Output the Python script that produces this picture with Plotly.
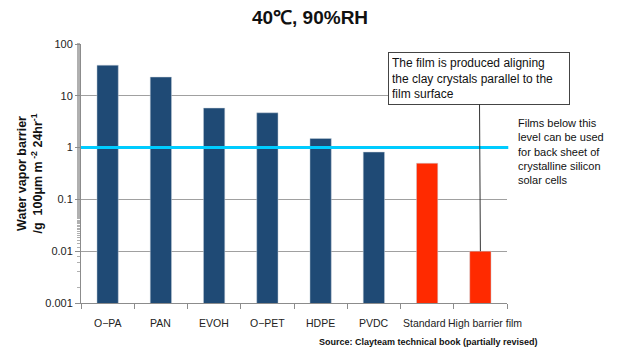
import math
import plotly.graph_objects as go

categories = ["O−PA", "PAN", "EVOH", "O−PET", "HDPE", "PVDC", "Standard", "High barrier film"]
values = [39, 23, 5.8, 4.7, 1.5, 0.82, 0.5, 0.01]
bar_colors = ["#1F4A75"] * 6 + ["#FF2A00"] * 2
label_shift = [0, 0, 0, 0, 0, 0, -3, 5]
y_tickvals = [0.001, 0.01, 0.1, 1, 10, 100]
y_ticktext = ["0.001", "0.01", "0.1", "1", "10", "100"]
threshold = 1

title_text = "40℃, 90%RH"
ytitle_text = "<b>Water vapor barrier<br>/g  100μm m<sup> -2</sup> 24hr<sup>-1</sup></b>"
box_text = "The film is produced aligning<br>the clay crystals parallel to the<br>film surface"
side_text = "Films below this<br>level can be used<br>for back sheet of<br>crystalline silicon<br>solar cells"
source_text = "Source: Clayteam technical book (partially revised)"

FONT = "Liberation Sans, Arial, sans-serif"
ymin, ymax = 0.001, 100
lmin, lmax = math.log10(ymin), math.log10(ymax)

fig = go.Figure()
fig.add_trace(go.Bar(
    x=categories, y=values, width=0.4,
    marker=dict(color=bar_colors, line=dict(color="rgba(200,210,220,0.8)", width=0.6)),
    showlegend=False, hoverinfo="x+y",
))

fig.update_layout(
    width=620, height=350,
    margin=dict(l=81, r=113, t=44, b=47, autoexpand=False),
    paper_bgcolor="white", plot_bgcolor="white",
    font=dict(family=FONT, size=11, color="#222"),
    title=dict(text="<b>" + title_text + "</b>", x=0.5, xanchor="center", y=0.95, yanchor="middle",
               font=dict(family=FONT, size=19, color="#111")),
    bargap=0.6,
)
fig.update_xaxes(
    showline=True, linecolor="#8c8c8c", linewidth=1,
    ticks="outside", tickson="boundaries", ticklen=5, tickcolor="#8c8c8c",
    showgrid=False, showticklabels=False, automargin=False,
    range=[-0.5, len(categories) - 0.5],
)
fig.update_yaxes(
    type="log", range=[lmin, lmax],
    tickvals=y_tickvals, ticktext=y_ticktext,
    showline=True, linecolor="#8c8c8c", linewidth=1,
    ticks="outside", ticklen=5, tickcolor="#8c8c8c",
    showgrid=True, gridcolor="#a0a0a0", gridwidth=1,
    minor=dict(ticks="outside", ticklen=3, tickcolor="#b0b0b0"),
    tickfont=dict(size=11, color="#222"), zeroline=False, automargin=False,
)

# category labels
for cat, sh in zip(categories, label_shift):
    fig.add_annotation(text=cat, x=cat, xref="x", yref="paper", y=-(323 - 303) / 259,
                       xanchor="center", yanchor="middle", xshift=sh, showarrow=False,
                       font=dict(family=FONT, size=10.5, color="#222"))

# threshold line
ty = (math.log10(threshold) - lmin) / (lmax - lmin)
fig.add_shape(type="line", xref="paper", yref="paper", x0=0, x1=1.003,
              y0=ty, y1=ty, line=dict(color="#00CCFF", width=3))

# y axis title
fig.add_annotation(text=ytitle_text, xref="paper", yref="paper",
                   x=-0.122, y=0.5, xanchor="center", yanchor="middle",
                   textangle=-90, showarrow=False,
                   font=dict(family=FONT, size=12.5, color="#111"))

# callout box with leader line to high barrier bar
fig.add_annotation(text=box_text, x=categories[-1], y=math.log10(values[-1]),
                   xref="x", yref="y", showarrow=True, arrowhead=0, arrowwidth=1,
                   arrowcolor="#333", ax=-1, ay=-173,
                   bordercolor="#444", borderwidth=1, borderpad=3, bgcolor="white",
                   align="left", width=174,
                   font=dict(family=FONT, size=12, color="#111"))

# side note
fig.add_annotation(text=side_text, xref="paper", yref="paper",
                   x=(516 - 81) / 426, y=(303 - 115) / 259, xanchor="left", yanchor="top",
                   align="left", showarrow=False,
                   font=dict(family=FONT, size=11, color="#111"))

# source
fig.add_annotation(text="<b>" + source_text + "</b>", xref="paper", yref="paper",
                   x=(540 - 81) / 426, y=-(342 - 303) / 259, xanchor="right", yanchor="middle",
                   showarrow=False, font=dict(family=FONT, size=9, color="#111"))

fig.write_html("out.html")
